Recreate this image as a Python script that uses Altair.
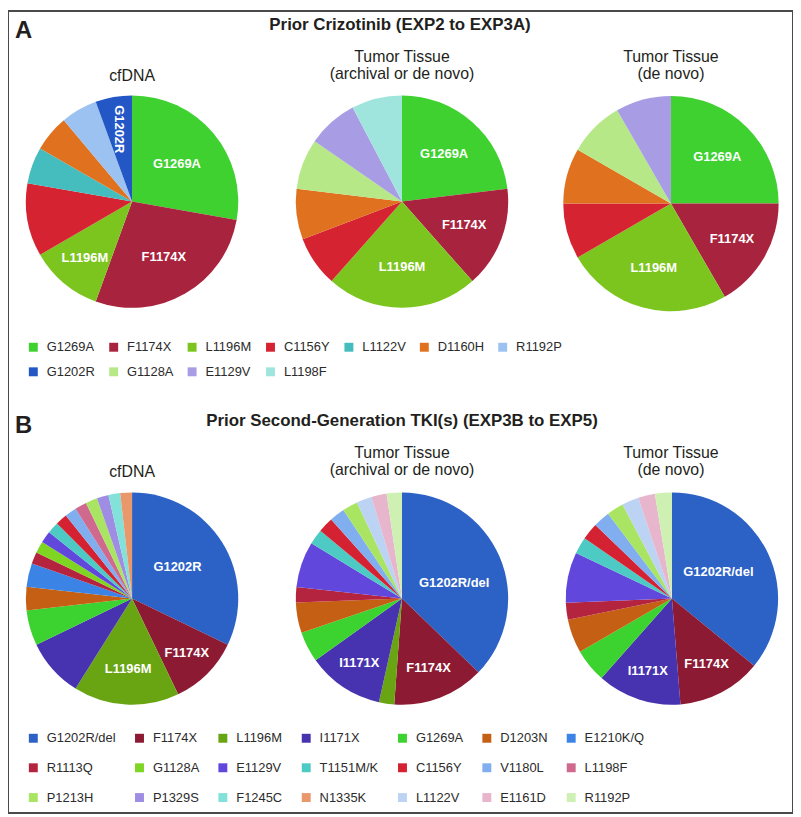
import altair as alt
import pandas as pd

FONT = "Liberation Sans"
INK = "#231f20"
W, H = 791, 808

# ---------------- Panel A: Prior Crizotinib ----------------
A_TITLE = "Prior Crizotinib (EXP2 to EXP3A)"
A_LEGEND = ["G1269A", "F1174X", "L1196M", "C1156Y", "L1122V", "D1160H", "R1192P",
            "G1202R", "G1128A", "E1129V", "L1198F"]
A_COLORS = ["#3ed12f", "#a8233d", "#7cc51e", "#d52332", "#45bdbf", "#e0711f", "#9cc2f2",
            "#2357c6", "#b6e888", "#a89ce4", "#9fe5de"]

A1_MUT = ["G1269A", "F1174X", "L1196M", "C1156Y", "L1122V", "D1160H", "R1192P", "G1202R"]
A1_N = [5, 5, 2, 2, 1, 1, 1, 1]
A1_LABEL = ["G1269A", "F1174X", "L1196M", "", "", "", "", "G1202R"]

A2_MUT = ["G1269A", "F1174X", "L1196M", "C1156Y", "D1160H", "G1128A", "E1129V", "L1198F"]
A2_N = [3, 2, 3, 1, 1, 1, 1, 1]
A2_LABEL = ["G1269A", "F1174X", "L1196M", "", "", "", "", ""]

A3_MUT = ["G1269A", "F1174X", "L1196M", "C1156Y", "D1160H", "G1128A", "E1129V"]
A3_N = [3, 2, 3, 1, 1, 1, 1]
A3_LABEL = ["G1269A", "F1174X", "L1196M", "", "", "", ""]

# ---------------- Panel B: Prior second-generation TKI ----------------
B_TITLE = "Prior Second-Generation TKI(s) (EXP3B to EXP5)"
B_LEGEND = ["G1202R/del", "F1174X", "L1196M", "I1171X", "G1269A", "D1203N", "E1210K/Q",
            "R1113Q", "G1128A", "E1129V", "T1151M/K", "C1156Y", "V1180L", "L1198F",
            "P1213H", "P1329S", "F1245C", "N1335K", "L1122V", "E1161D", "R1192P"]
B_COLORS = ["#2c62c6", "#8c1a32", "#69a512", "#4733af", "#3cd22f", "#c45f14", "#3b84e5",
            "#b5243e", "#7fd622", "#6247dd", "#4ccac3", "#d42232", "#80aeee", "#cf6a8e",
            "#a9e563", "#9f8de3", "#82e2d9", "#e9986c", "#bdd3f4", "#e7b5cc", "#cef1b3"]

B1_MUT = ["G1202R/del", "F1174X", "L1196M", "I1171X", "G1269A", "D1203N", "E1210K/Q",
          "R1113Q", "G1128A", "E1129V", "T1151M/K", "C1156Y", "V1180L", "L1198F",
          "P1213H", "P1329S", "F1245C", "N1335K"]
B1_N = [18, 6, 9, 5, 3, 2, 2, 1, 1, 1, 1, 1, 1, 1, 1, 1, 1, 1]
B1_LABEL = ["G1202R", "F1174X", "L1196M"] + [""] * 15

B2_MUT = ["G1202R/del", "F1174X", "L1196M", "I1171X", "G1269A", "D1203N", "R1113Q",
          "E1129V", "T1151M/K", "C1156Y", "V1180L", "P1213H", "L1122V", "E1161D", "R1192P"]
B2_N = [16, 6, 1, 5, 2, 2, 1, 3, 1, 1, 1, 1, 1, 1, 1]
B2_LABEL = ["G1202R/del", "F1174X", "", "I1171X"] + [""] * 11

B3_MUT = ["G1202R/del", "F1174X", "I1171X", "G1269A", "D1203N", "R1113Q", "E1129V",
          "T1151M/K", "C1156Y", "V1180L", "P1213H", "L1122V", "E1161D", "R1192P"]
B3_N = [14, 5, 5, 2, 2, 1, 3, 1, 1, 1, 1, 1, 1, 1]
B3_LABEL = ["G1202R/del", "F1174X", "I1171X"] + [""] * 11

SUB_CF = "cfDNA"
SUB_TT = "Tumor Tissue"
SUB_ARCH = "(archival or de novo)"
SUB_NOVO = "(de novo)"

# ---------------- layout (pixels / degrees) ----------------
LABEL_R = {"A1": [59, 64, 74, 0, 0, 0, 0, 74], "A2": [64, 67, 66, 0, 0, 0, 0, 0],
           "A3": [66, 71, 67, 0, 0, 0, 0],
           "B1": [56, 78, 71] + [0] * 15, "B2": [55, 75, 0, 78] + [0] * 11,
           "B3": [54, 75, 77] + [0] * 11}
LABEL_SHIFT_DEG = {"B1": [-3] + [0] * 17, "B2": [6] + [0] * 14, "B3": [-4.5] + [0] * 13}
LABEL_ANGLE = {"A1": [0, 0, 0, 0, 0, 0, 0, 90]}


def make_legend(y, row_pad, col_pad):
    return alt.Legend(title=None, orient="none", legendX=19, legendY=y,
                      direction="horizontal", columns=7, symbolType="square",
                      symbolSize=81, symbolStrokeWidth=0, labelFont=FONT,
                      labelFontSize=13, labelColor="#2b2b2b", labelOffset=7,
                      columnPadding=col_pad, rowPadding=row_pad, padding=0)


def pie(key, muts, counts, labels, domain, colors, legend, cx, cy, r):
    n = len(muts)
    df = pd.DataFrame({
        "mut": muts, "n": counts, "label": labels, "i": list(range(n)),
        "lr": LABEL_R[key], "la": LABEL_ANGLE.get(key, [0] * n),
        "sh": LABEL_SHIFT_DEG.get(key, [0] * n),
    })
    base = alt.Chart(df)
    arc = base.mark_arc(outerRadius=r, strokeWidth=0).encode(
        theta=alt.Theta("n:Q", stack=True),
        order=alt.Order("i:Q"),
        color=alt.Color("mut:N", scale=alt.Scale(domain=domain, range=colors), legend=legend),
        x=alt.value(cx), y=alt.value(cy),
    )
    txt = base.transform_window(
        cum="sum(n)", sort=[alt.SortField("i")], frame=[None, 0]
    ).transform_joinaggregate(
        tot="sum(n)"
    ).transform_calculate(
        ang="2 * PI * (datum.cum - datum.n / 2) / datum.tot + datum.sh * PI / 180"
    ).transform_filter(
        "datum.label != ''"
    ).mark_text(font=FONT, fontSize=13, fontWeight="bold", color="white",
                align="center", baseline="middle").encode(
        theta=alt.Theta("ang:Q", scale=None, stack=False),
        radius=alt.Radius("lr:Q", scale=None),
        angle=alt.Angle("la:Q", scale=None),
        text="label:N",
        x=alt.value(cx), y=alt.value(cy),
    )
    return alt.layer(arc, txt).resolve_scale(theta="independent")


def text(t, x, y, size, weight="normal", align="center"):
    return alt.Chart(pd.DataFrame({"t": [t]})).mark_text(
        font=FONT, fontSize=size, fontWeight=weight, align=align,
        baseline="alphabetic", color=INK).encode(
        x=alt.value(x), y=alt.value(y), text="t:N")


legA = make_legend(332, 11, 12)
legB = make_legend(726, 16, 17)

secA = alt.layer(
    pie("A1", A1_MUT, A1_N, A1_LABEL, A_LEGEND, A_COLORS, legA, 125, 192, 107),
    pie("A2", A2_MUT, A2_N, A2_LABEL, A_LEGEND, A_COLORS, legA, 397, 192, 107),
    pie("A3", A3_MUT, A3_N, A3_LABEL, A_LEGEND, A_COLORS, legA, 668, 194, 108.5),
).resolve_scale(theta="independent")

secB = alt.layer(
    pie("B1", B1_MUT, B1_N, B1_LABEL, B_LEGEND, B_COLORS, legB, 125, 592, 107),
    pie("B2", B2_MUT, B2_N, B2_LABEL, B_LEGEND, B_COLORS, legB, 397, 592, 107),
    pie("B3", B3_MUT, B3_N, B3_LABEL, B_LEGEND, B_COLORS, legB, 669, 592, 107),
).resolve_scale(theta="independent")

heads = [
    text("A", 7, 27, 24, "bold", "left"),
    text(A_TITLE, 395, 19, 17, "bold"),
    text(SUB_CF, 125, 70, 16),
    text(SUB_TT, 397, 51, 16), text(SUB_ARCH, 397, 68, 16),
    text(SUB_TT, 668, 51, 16), text(SUB_NOVO, 668, 68, 16),
    text("B", 7, 425, 24, "bold", "left"),
    text(B_TITLE, 397, 418, 17, "bold"),
    text(SUB_CF, 125, 469, 16),
    text(SUB_TT, 397, 450, 16), text(SUB_ARCH, 397, 467, 16),
    text(SUB_TT, 668, 450, 16), text(SUB_NOVO, 668, 467, 16),
]

chart = alt.layer(secA, secB, *heads).resolve_scale(
    color="independent", theta="independent"
).properties(
    width=W, height=H, autosize=alt.AutoSizeParams(type="none"), padding=0,
    background="white",
).configure_view(stroke="#4a4a4a", strokeWidth=2)

chart.save("out.html", embed_options={"renderer": "svg", "actions": False})
